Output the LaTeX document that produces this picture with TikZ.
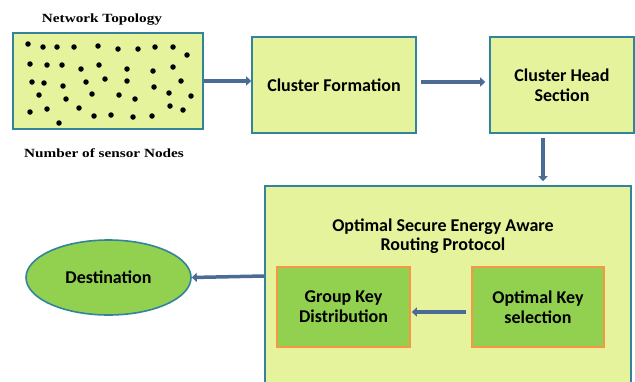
\documentclass[tikz,border=0pt]{standalone}
\usepackage{fontspec}
\setmainfont{Carlito}
\newfontfamily\serifb[FakeStretch=1.22]{Liberation Serif}
\usetikzlibrary{arrows.meta,shapes.geometric}
\definecolor{lightfill}{HTML}{E4F39C}
\definecolor{tealb}{HTML}{31849B}
\definecolor{arrowc}{HTML}{4A6C94}
\definecolor{greenf}{HTML}{92D050}
\definecolor{orangeb}{HTML}{F79646}
\begin{document}
\begin{tikzpicture}[x=1pt,y=-1pt,
  lbox/.style={draw=tealb,line width=1.6pt,fill=lightfill,inner sep=0pt,align=center,font=\fontsize{18}{19.5}\selectfont\bfseries},
  gbox/.style={draw=orangeb,line width=1.6pt,fill=greenf,inner sep=0pt,align=center,font=\fontsize{18}{20}\selectfont\bfseries},
  arr/.style={draw=arrowc,line width=3.5pt,-{Triangle[length=5pt,width=9pt]}},
  dot/.style={circle,fill=black,inner sep=0pt,minimum size=5.5pt},
  slabel/.style={font=\fontsize{12.5}{14}\selectfont\serifb\bfseries,inner sep=0pt}]
\useasboundingbox (0,0) rectangle (635,381);
\fill[white] (0,0) rectangle (635,381);
\begin{scope}
\clip (0,0) rectangle (635,381);
\node[slabel] (ttl) at (102,20) {Network Topology};
\node[slabel] (nsn) at (104,153) {Number of sensor Nodes};
\node[lbox,minimum width=190pt,minimum height=96pt] (topo) at (108,81) {};
\foreach \i/\x/\y in {1/28/44,2/43/47,3/57/47,4/74/47,5/98/46,6/118/49,7/138/49,8/155/47,9/173/47,10/187/55,
  11/30/64,12/47/65,13/62/65,14/81/69,15/99/65,16/127/69,17/153/71,18/173/67,
  19/32/82,20/44/83,21/63/86,22/86/82,23/105/79,24/127/81,25/154/87,26/181/81,
  27/39/95,28/66/99,29/92/94,30/119/95,31/135/99,32/169/93,33/191/96,
  34/30/112,35/47/109,36/79/108,37/94/116,38/111/115,39/133/117,40/152/116,41/170/106,42/183/110,43/59/123}
  \node[dot] (d\i) at (\x,\y) {};
\node[lbox,minimum width=164pt,minimum height=96pt] (cf) at (334,85) {Cluster Formation};
\node[lbox,minimum width=144pt,minimum height=96pt] (ch) at (562,85) {Cluster Head\\Section};
\node[lbox,minimum width=366pt,minimum height=210pt] (big) at (448,291) {};
\node[font=\fontsize{18}{19}\selectfont\bfseries,align=center,inner sep=0pt] (bt) at (443,236) {Optimal Secure Energy Aware\\Routing Protocol};
\node[gbox,minimum width=133pt,minimum height=80pt] (gk) at (343.5,307) {Group Key\\Distribution};
\node[gbox,minimum width=132pt,minimum height=80pt] (ok) at (538,307) {Optimal Key\\selection};
\node[ellipse,draw=tealb,line width=1.6pt,fill=greenf,minimum width=165pt,minimum height=75pt,inner sep=0pt,font=\fontsize{18}{19}\selectfont\bfseries] (dest) at (108.5,277.5) {Destination};
\end{scope}
\draw[arr] (topo.east) -- (topo.east -| cf.west);
\draw[arr,shorten <=4pt,shorten >=4pt] (cf.east |- 0,82) -- (ch.west |- 0,82);
\coordinate (dtop) at ([xshift=-19pt]ch.south);
\draw[arr,shorten <=4pt,shorten >=4pt] (dtop) -- (dtop |- big.north);
\coordinate (bl) at (big.west |- 0,276);
\draw[arr] (bl) -- (dest.east);
\draw[arr,shorten <=5pt,shorten >=1pt] (ok.west |- 0,312) -- (gk.east |- 0,312);
\end{tikzpicture}
\end{document}
